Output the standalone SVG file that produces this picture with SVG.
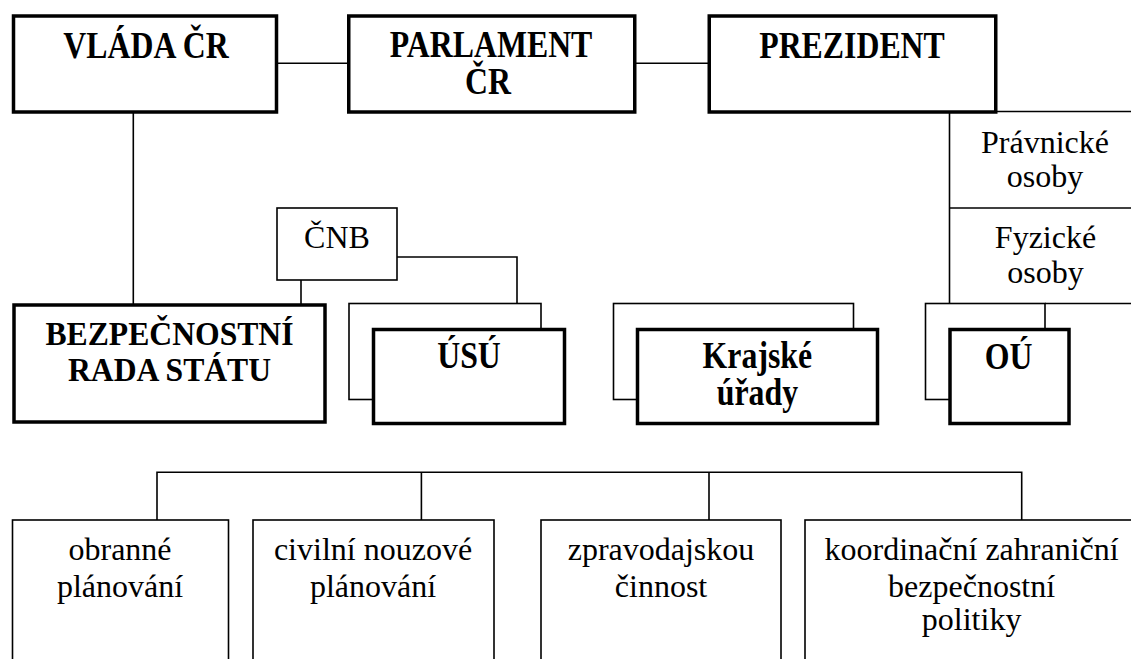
<svg xmlns="http://www.w3.org/2000/svg" width="1131" height="659" viewBox="0 0 1131 659">
<style>
.thick{fill:#fff;stroke:#000;stroke-width:3.5}
.thin{fill:#fff;stroke:#000;stroke-width:1.6}
.ln{fill:none;stroke:#000;stroke-width:1.6}
text{font-family:"Liberation Serif","Times New Roman",serif;font-size:32px;text-anchor:middle;fill:#000}
.b{font-weight:bold;font-size:37px}
.bs{font-weight:bold;font-size:33px}
</style>
<rect width="1131" height="659" fill="#fff"/>
<g id="connectors">
<line class="ln" x1="278" y1="63.3" x2="348" y2="63.3"/>
<line class="ln" x1="636" y1="63.3" x2="708" y2="63.3"/>
<line class="ln" x1="997" y1="111.5" x2="1131" y2="111.5"/>
<line class="ln" x1="949.5" y1="113" x2="949.5" y2="303.5"/>
<line class="ln" x1="949.5" y1="208" x2="1131" y2="208"/>
<line class="ln" x1="1045" y1="303.5" x2="1131" y2="303.5"/>
<line class="ln" x1="133.3" y1="113" x2="133.3" y2="305"/>
<line class="ln" x1="301" y1="280" x2="301" y2="305"/>
<path class="ln" d="M397,257H517V303.5"/>
<path class="ln" d="M157,520V472.3H1021.7V520M421.4,472.3V520M709,472.3V520"/>
</g>
<g id="vlada"><rect class="thick" x="13.5" y="16" width="263" height="96"/><text class="b" transform="translate(146,58.3) scale(0.86,1)">VLÁDA ČR</text></g>
<g id="parlament"><rect class="thick" x="348.75" y="16" width="286" height="96"/><text class="b" transform="translate(491,56.7) scale(0.86,1)">PARLAMENT</text><text class="b" transform="translate(488,94) scale(0.86,1)">ČR</text></g>
<g id="prezident"><rect class="thick" x="709.25" y="16" width="286.5" height="96"/><text class="b" transform="translate(852,58.3) scale(0.86,1)">PREZIDENT</text></g>
<g id="pravnicke"><text x="1045" y="153.3">Právnické</text><text x="1045" y="186.7">osoby</text></g>
<g id="fyzicke"><text x="1045.5" y="248.3">Fyzické</text><text x="1045.5" y="283.3">osoby</text></g>
<g id="cnb"><rect class="thin" x="277" y="208" width="120" height="72"/><text x="337" y="248.3">ČNB</text></g>
<g id="bezpecnostni"><rect class="thick" x="14" y="305" width="311" height="117"/><text class="bs" transform="translate(169.5,345) scale(0.96,1)">BEZPEČNOSTNÍ</text><text class="bs" transform="translate(169.5,381) scale(0.96,1)">RADA STÁTU</text></g>
<g id="usu"><rect class="thin" x="349" y="303.5" width="192" height="96"/><rect class="thick" x="373.5" y="329.5" width="191" height="94"/><text class="b" transform="translate(469,368.3) scale(0.86,1)">ÚSÚ</text></g>
<g id="krajske"><rect class="thin" x="613.5" y="303.5" width="240" height="96"/><rect class="thick" x="637.5" y="329.5" width="240" height="94"/><text class="b" transform="translate(757.4,368.3) scale(0.86,1)">Krajské</text><text class="b" transform="translate(757.4,405) scale(0.86,1)">úřady</text></g>
<g id="ou"><rect class="thin" x="925.5" y="303.5" width="119.5" height="96"/><rect class="thick" x="950" y="329.5" width="119" height="94"/><text class="b" transform="translate(1008.5,369) scale(0.86,1)">OÚ</text></g>
<g id="obranne"><rect class="thin" x="12.5" y="520" width="216" height="200"/><text x="120" y="560">obranné</text><text x="120" y="596.7">plánování</text></g>
<g id="civilni"><rect class="thin" x="253" y="520" width="241" height="200"/><text x="373" y="560">civilní nouzové</text><text x="373" y="596.7">plánování</text></g>
<g id="zpravodajskou"><rect class="thin" x="541" y="520" width="240" height="200"/><text x="661" y="560">zpravodajskou</text><text x="661" y="596.7">činnost</text></g>
<g id="koordinacni"><rect class="thin" x="805" y="520" width="400" height="200"/><text x="971.6" y="560">koordinační zahraniční</text><text x="971.6" y="596.7">bezpečnostní</text><text x="971.6" y="630">politiky</text></g>
</svg>
